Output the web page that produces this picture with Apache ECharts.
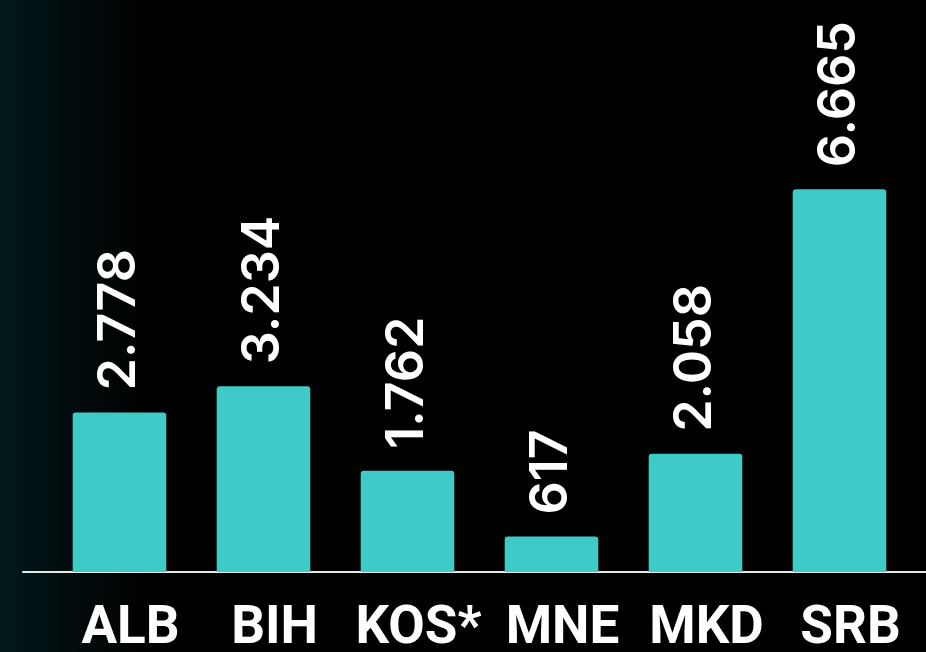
<!DOCTYPE html>
<html>
<head>
<meta charset="utf-8">
<script src="https://cdn.jsdelivr.net/npm/echarts@6/dist/echarts.min.js"></script>
<style>
  html, body { margin: 0; padding: 0; }
  body {
    width: 926px; height: 652px;
    background: linear-gradient(to right, #03191c 0px, #020d0f 60px, #000 150px, #000 100%);
  }
  #chart { width: 926px; height: 652px; }
</style>
</head>
<body>
<div id="chart"></div>
<script>
// Country codes along the category axis
const categories = ['ALB', 'BIH', 'KOS*', 'MNE', 'MKD', 'SRB'];
// Values per country
const values = [2778, 3234, 1762, 617, 2058, 6665];

const fmt = v => String(v).replace(/\B(?=(\d{3})+(?!\d))/g, '.');
const FONT = 'Inter, Roboto, sans-serif';

const chart = echarts.init(document.getElementById('chart'), null, { renderer: 'canvas' });
chart.setOption({
  backgroundColor: 'transparent',
  animation: false,
  grid: [
    { left: 47.5, right: 14.5, top: 55, bottom: 80, containLabel: false, outerBoundsMode: 'none' },
    { left: 23, right: 0, top: 55, bottom: 80, containLabel: false, outerBoundsMode: 'none' }
  ],
  xAxis: [
    {
      type: 'category', gridIndex: 0, data: categories,
      axisLine: { show: false }, axisTick: { show: false },
      axisLabel: {
        interval: 0,
        color: '#ffffff', fontFamily: 'Roboto, sans-serif', fontWeight: 'bold',
        fontSize: 53, margin: 31, padding: [0, 0, 0, 22]
      }
    },
    {
      type: 'value', gridIndex: 1, min: 0, max: 1,
      axisLine: { show: true, lineStyle: { color: '#e8e8e8', width: 2 } },
      axisTick: { show: false }, axisLabel: { show: false }, splitLine: { show: false }
    }
  ],
  yAxis: [
    { type: 'value', gridIndex: 0, min: 0, max: 9000, show: false, splitLine: { show: false } },
    { type: 'value', gridIndex: 1, min: 0, max: 1, show: false, splitLine: { show: false } }
  ],
  series: [{
    type: 'bar', xAxisIndex: 0, yAxisIndex: 0,
    data: values, barWidth: '65%',
    itemStyle: { color: '#3ecbc8', borderRadius: [3, 3, 0, 0] },
    label: {
      show: true, position: 'top', rotate: 90, distance: 22,
      align: 'left', verticalAlign: 'middle',
      color: '#ffffff', fontFamily: FONT, fontWeight: 600, fontSize: 52,
      formatter: p => fmt(p.value)
    }
  }]
});
</script>
</body>
</html>
